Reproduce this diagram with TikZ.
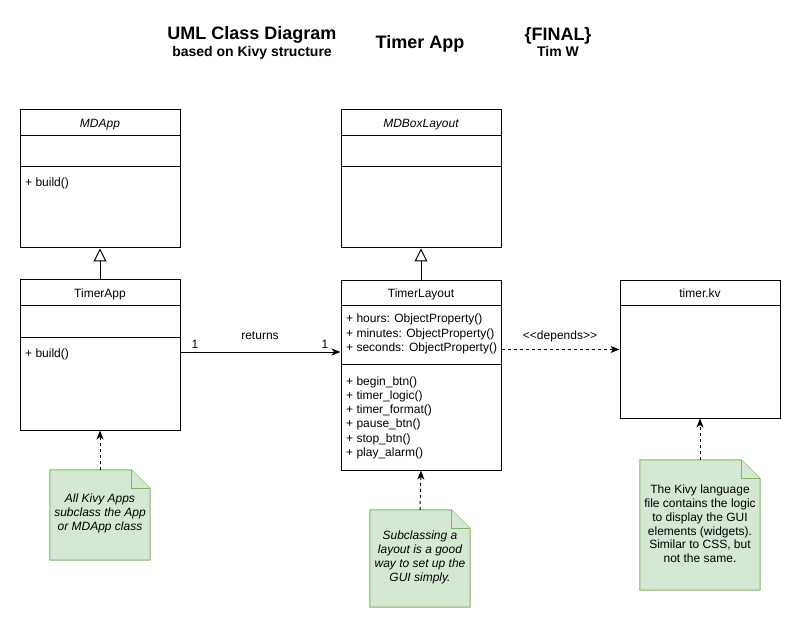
\documentclass[tikz,border=0pt]{standalone}
\usepackage{fontspec}
\setmainfont{Liberation Sans}
\usetikzlibrary{arrows.meta}
\definecolor{notefill}{HTML}{D5E8D4}
\definecolor{notedraw}{HTML}{82B366}
\newcommand\drawnote[1]{%
  \draw[noteshape] (#1.north west) -- ([xshift=-19pt]#1.north east) -- ([yshift=-19pt]#1.north east) -- (#1.south east) -- (#1.south west) -- cycle;
  \draw[noteshape] ([xshift=-19pt]#1.north east) -- ([xshift=-19pt,yshift=-19pt]#1.north east) -- ([yshift=-19pt]#1.north east);}
\begin{document}
\begin{tikzpicture}[x=1pt,y=-1pt,
  cls/.style={draw, fill=white, line width=1pt, inner sep=0pt, minimum width=160pt},
  cline/.style={line width=1pt},
  txt/.style={font=\fontsize{12}{14}\selectfont, inner sep=0pt},
  hdr/.style={txt, anchor=base},
  mem/.style={txt, anchor=base west},
  ttl/.style={font=\bfseries\fontsize{18}{21}\selectfont, inner sep=0pt, anchor=base},
  sub/.style={font=\bfseries\fontsize{14}{16}\selectfont, inner sep=0pt, anchor=base},
  inh/.style={line width=1pt, -{Triangle[open, fill=white, length=13pt, width=13pt]}},
  assoc/.style={line width=1pt, -{Stealth[length=9pt, width=7pt, inset=2.5pt]}},
  dep/.style={line width=1pt, dash pattern=on 3pt off 3pt, -{Stealth[length=9pt, width=7pt, inset=2.5pt]}},
  noteframe/.style={inner sep=0pt},
  noteshape/.style={draw=notedraw, fill=notefill, line width=1pt},
  notetext/.style={font=\fontsize{12}{13.8}\selectfont, align=center, inner sep=0pt}]
\useasboundingbox (0,0) rectangle (801,631);

% titles
\node[ttl] (t1) at (252,40) {UML Class Diagram};
\node[sub] (t2) at (252,56.5) {based on Kivy structure};
\node[ttl] (t3) at (420,49) {Timer App};
\node[ttl] (t4) at (558,41) {\{FINAL\}};
\node[sub] (t5) at (558,56.5) {Tim W};

% MDApp
\node[cls, minimum height=138pt] (MDApp) at (100,179) {};
\draw[cline] (MDApp.west |- 0,136) -- (MDApp.east |- 0,136);
\draw[cline] (MDApp.west |- 0,167) -- (MDApp.east |- 0,167);
\node[hdr, font=\itshape\fontsize{12}{14}\selectfont] (MDAppName) at (100,128) {MDApp};
\node[mem] (MDAppM) at (25,187) {+ build()};

% TimerApp
\node[cls, minimum height=150pt] (TimerApp) at (100,355) {};
\draw[cline] (TimerApp.west |- 0,306) -- (TimerApp.east |- 0,306);
\draw[cline] (TimerApp.west |- 0,337) -- (TimerApp.east |- 0,337);
\node[hdr] (TimerAppName) at (100,298) {TimerApp};
\node[mem] (TimerAppM) at (25,357) {+ build()};

% MDBoxLayout
\node[cls, minimum height=138pt] (MDBox) at (421,179) {};
\draw[cline] (MDBox.west |- 0,136) -- (MDBox.east |- 0,136);
\draw[cline] (MDBox.west |- 0,167) -- (MDBox.east |- 0,167);
\node[hdr, font=\itshape\fontsize{12}{14}\selectfont] (MDBoxName) at (421,128) {MDBoxLayout};

% TimerLayout
\node[cls, minimum height=189pt] (TimerLayout) at (421,375.5) {};
\draw[cline] (TimerLayout.west |- 0,306) -- (TimerLayout.east |- 0,306);
\draw[cline] (TimerLayout.west |- 0,364) -- (TimerLayout.east |- 0,364);
\node[hdr] (TimerLayoutName) at (421,298) {TimerLayout};
\node[mem] (tla1) at (346,323) {+ hours: ObjectProperty()};
\node[mem] (tla2) at (346,337.5) {+ minutes: ObjectProperty()};
\node[mem] (tla3) at (346,352) {+ seconds: ObjectProperty()};
\node[mem] (tlm1) at (346,385) {+ begin\_btn()};
\node[mem] (tlm2) at (346,399.3) {+ timer\_logic()};
\node[mem] (tlm3) at (346,413.6) {+ timer\_format()};
\node[mem] (tlm4) at (346,427.9) {+ pause\_btn()};
\node[mem] (tlm5) at (346,442.2) {+ stop\_btn()};
\node[mem] (tlm6) at (346,456.5) {+ play\_alarm()};

% timer.kv
\node[cls, minimum height=137pt] (kv) at (700,349.5) {};
\draw[cline] (kv.west |- 0,306) -- (kv.east |- 0,306);
\node[hdr] (kvName) at (700,298) {timer.kv};

% inheritance
\draw[inh] (TimerApp.north) -- (MDApp.south);
\draw[inh] (TimerLayout.north) -- (MDBox.south);

% association
\draw[assoc] (TimerApp.east |- 0,352) -- (TimerLayout.west |- 0,352);
\node[txt, anchor=base] (m1) at (195,348) {1};
\node[txt, anchor=base] (m2) at (325,348) {1};
\node[txt, anchor=base] (retl) at (260,339) {returns};

% dependency
\draw[dep] (TimerLayout.east |- 0,349.5) -- (kv.west |- 0,349.5);
\node[txt, anchor=base] (depl) at (560,339) {\textless\kern0pt\textless\kern0pt depends\kern0pt\textgreater\kern0pt\textgreater};

% notes
\node[noteframe, minimum width=100pt, minimum height=90pt] (n1) at (100,515) {};
\drawnote{n1}
\node[notetext, font=\itshape\fontsize{12}{13.8}\selectfont] (n1t) at (100,513.5) {All Kivy Apps\\subclass the App\\or MDApp class};
\draw[dep] (n1.north) -- (TimerApp.south);

\node[noteframe, minimum width=100pt, minimum height=97pt] (n2) at (420,558.5) {};
\drawnote{n2}
\node[notetext, font=\itshape\fontsize{12}{13.8}\selectfont] (n2t) at (420,557.5) {Subclassing a\\layout is a good\\way to set up the\\GUI simply.};
\draw[dep] (n2.north) -- (TimerLayout.south);

\node[noteframe, minimum width=120pt, minimum height=130pt] (n3) at (700,525) {};
\drawnote{n3}
\node[notetext] (n3t) at (700,524) {The Kivy language\\file contains the logic\\to display the GUI\\elements (widgets).\\Similar to CSS, but\\not the same.};
\draw[dep] (n3.north) -- (kv.south);
\end{tikzpicture}
\end{document}
